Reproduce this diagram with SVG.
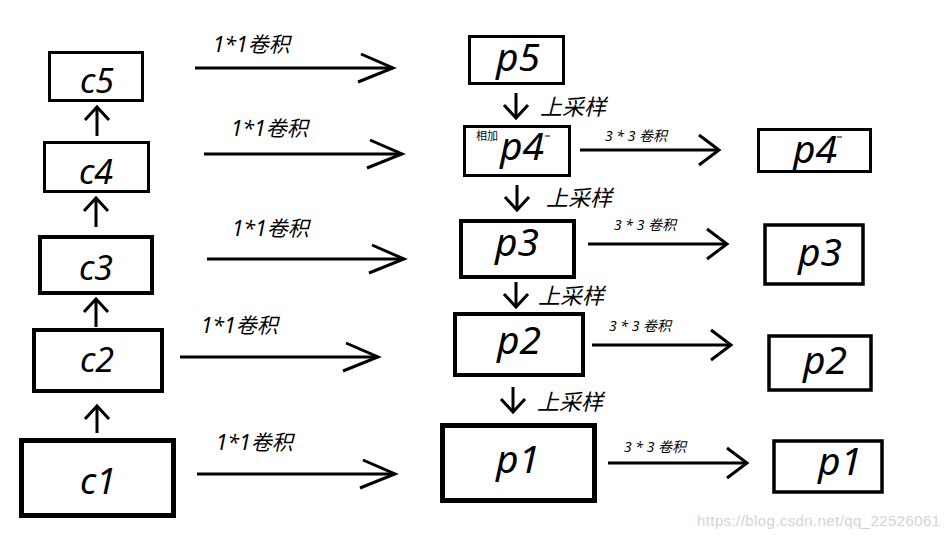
<svg xmlns="http://www.w3.org/2000/svg" width="946" height="539" viewBox="0 0 946 539">
<style>
.box{fill:#fff;stroke:#000}
.big{font-family:"Noto Sans","Noto Sans CJK SC",sans-serif;font-style:italic;font-size:34px;text-anchor:middle;fill:#000}
.pb{font-size:39px}
.l11{font-family:"Noto Sans","Noto Sans CJK SC",sans-serif;font-style:italic;font-size:21px;fill:#000}
.l33{font-family:"Noto Sans","Noto Sans CJK SC",sans-serif;font-style:italic;font-size:14px;fill:#000}
.up{font-family:"Noto Sans","Noto Sans CJK SC",sans-serif;font-style:italic;font-size:22px;fill:#000}
.small{font-family:"Noto Sans CJK SC",sans-serif;font-size:11px;fill:#000}
.ln{stroke:#000;stroke-width:3;fill:none}
.wm{font-family:"Liberation Sans",Arial,sans-serif;font-size:15px;fill:#d4d4d4}
</style>
<defs>
<marker id="big" markerUnits="userSpaceOnUse" markerWidth="60" markerHeight="40" refX="50" refY="20" orient="auto" overflow="visible">
<path d="M18 6 L50 20 L15 34" fill="none" stroke="#000" stroke-width="3"/>
</marker>
<marker id="mid" markerUnits="userSpaceOnUse" markerWidth="40" markerHeight="40" refX="30" refY="20" orient="auto" overflow="visible">
<path d="M10 5 L30 20 L10 35" fill="none" stroke="#000" stroke-width="3"/>
</marker>
<marker id="sm" markerUnits="userSpaceOnUse" markerWidth="30" markerHeight="30" refX="20" refY="15" orient="auto" overflow="visible">
<path d="M7 3 L20 15 L7 27" fill="none" stroke="#000" stroke-width="3"/>
</marker>
</defs>

<g id="c5"><rect class="box" x="49.5" y="52.5" width="93" height="48" stroke-width="3"/><text class="big" x="97" y="93">c5</text></g>
<g id="c4"><rect class="box" x="44.5" y="142.5" width="104" height="49" stroke-width="3"/><text class="big" x="96" y="184">c4</text></g>
<g id="c3"><rect class="box" x="40" y="237" width="112" height="56" stroke-width="4"/><text class="big" x="96" y="280">c3</text></g>
<g id="c2"><rect class="box" x="34" y="330" width="128" height="61" stroke-width="4"/><text class="big" x="97" y="372">c2</text></g>
<g id="c1"><rect class="box" x="21.5" y="440.5" width="152" height="75" stroke-width="5"/><text class="big" x="98" y="494" style="font-size:36px">c1</text></g>

<g id="p5"><rect class="box" x="469.5" y="36.5" width="94" height="47" stroke-width="3"/><text class="big pb" x="518" y="71">p5</text></g>
<g id="p4"><rect class="box" x="464.5" y="126.5" width="105" height="49" stroke-width="3"/><text class="small" x="476" y="140">相加</text><text class="big pb" x="522" y="160">p4</text><line x1="545" y1="136" x2="550" y2="136" stroke="#000" stroke-width="1"/></g>
<g id="p4out"><rect class="box" x="758.5" y="129.5" width="112" height="42" stroke-width="3"/><text class="big pb" x="815" y="163">p4</text><line x1="837" y1="137" x2="842" y2="137" stroke="#000" stroke-width="1"/></g>
<g id="p3"><rect class="box" x="461" y="221" width="113" height="56" stroke-width="4"/><text class="big pb" x="517" y="256">p3</text></g>
<g id="p3out"><rect class="box" x="765" y="225" width="98" height="59" stroke-width="3.5"/><text class="big pb" x="820" y="266">p3</text></g>
<g id="p2"><rect class="box" x="455" y="314" width="128" height="61" stroke-width="4"/><text class="big pb" x="519" y="354">p2</text></g>
<g id="p2out"><rect class="box" x="769" y="336" width="102" height="54" stroke-width="3.5"/><text class="big pb" x="825" y="374">p2</text></g>
<g id="p1"><rect class="box" x="442.5" y="425.5" width="152" height="75" stroke-width="5"/><text class="big pb" x="518" y="473">p1</text></g>
<g id="p1out"><rect class="box" x="774" y="441" width="108" height="51" stroke-width="3.5"/><text class="big pb" x="840" y="475">p1</text></g>

<g id="connectors">
<line class="ln" x1="97" y1="136" x2="97" y2="107" marker-end="url(#sm)"/>
<line class="ln" x1="96" y1="227" x2="96" y2="198" marker-end="url(#sm)"/>
<line class="ln" x1="96" y1="327" x2="96" y2="299" marker-end="url(#sm)"/>
<line class="ln" x1="97" y1="433" x2="97" y2="406" marker-end="url(#sm)"/>

<line class="ln" x1="195" y1="68" x2="393" y2="68" marker-end="url(#big)"/>
<line class="ln" x1="204" y1="154" x2="402" y2="154" marker-end="url(#big)"/>
<line class="ln" x1="207" y1="259" x2="404" y2="259" marker-end="url(#big)"/>
<line class="ln" x1="180" y1="357" x2="378" y2="357" marker-end="url(#big)"/>
<line class="ln" x1="197" y1="474" x2="395" y2="474" marker-end="url(#big)"/>

<line class="ln" x1="516" y1="93" x2="516" y2="118" marker-end="url(#sm)"/>
<line class="ln" x1="517" y1="185" x2="517" y2="210" marker-end="url(#sm)"/>
<line class="ln" x1="516" y1="282" x2="516" y2="307" marker-end="url(#sm)"/>
<line class="ln" x1="513" y1="387" x2="513" y2="412" marker-end="url(#sm)"/>

<line class="ln" x1="580" y1="150" x2="719" y2="150" marker-end="url(#mid)"/>
<line class="ln" x1="588" y1="244" x2="727" y2="244" marker-end="url(#mid)"/>
<line class="ln" x1="592" y1="345" x2="731" y2="345" marker-end="url(#mid)"/>
<line class="ln" x1="608" y1="463" x2="747" y2="463" marker-end="url(#mid)"/>

<text class="l11" x="213" y="52">1*1卷积</text>
<text class="l11" x="231" y="136">1*1卷积</text>
<text class="l11" x="232" y="236">1*1卷积</text>
<text class="l11" x="201" y="333">1*1卷积</text>
<text class="l11" x="216" y="450">1*1卷积</text>

<text class="up" x="540" y="115">上采样</text>
<text class="up" x="546" y="206">上采样</text>
<text class="up" x="538" y="304">上采样</text>
<text class="up" x="537" y="410">上采样</text>

<text class="l33" x="605" y="141" xml:space="preserve">3 * 3 卷积</text>
<text class="l33" x="614" y="230" xml:space="preserve">3 * 3 卷积</text>
<text class="l33" x="609" y="331" xml:space="preserve">3 * 3 卷积</text>
<text class="l33" x="624" y="452" xml:space="preserve">3 * 3 卷积</text>
</g>

<text class="wm" x="697" y="526" textLength="243">https://blog.csdn.net/qq_22526061</text>
</svg>
